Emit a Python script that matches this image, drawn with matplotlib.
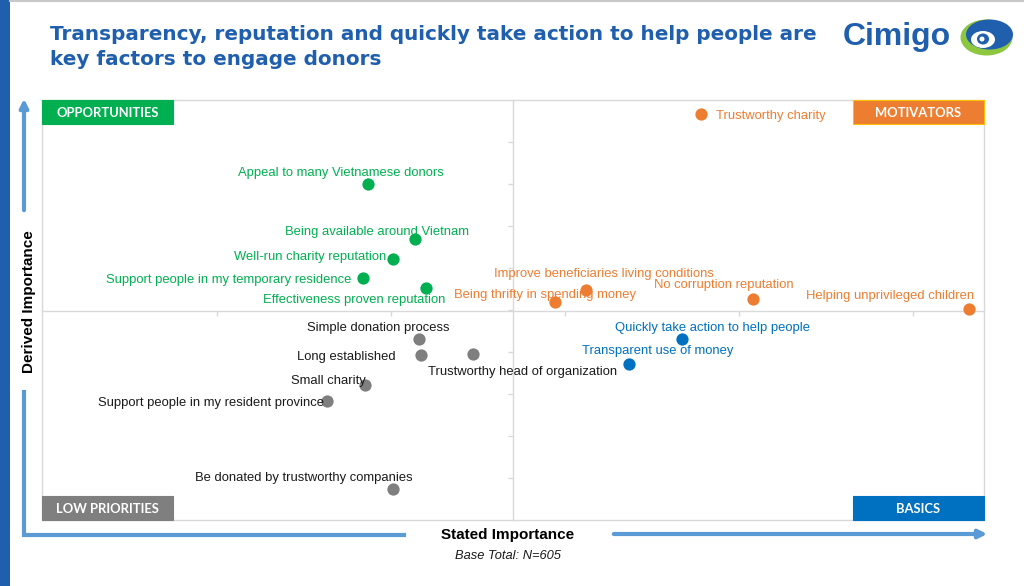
import matplotlib
matplotlib.use('Agg')
import matplotlib.pyplot as plt
from matplotlib.patches import Rectangle, Ellipse, FancyArrowPatch
from matplotlib.lines import Line2D

# ---------------- data ----------------
labels = [
    "Appeal to many Vietnamese donors",
    "Being available around Vietnam",
    "Well-run charity reputation",
    "Support people in my temporary residence",
    "Effectiveness proven reputation",
    "Trustworthy charity",
    "Improve beneficiaries living conditions",
    "Being thrifty in spending money",
    "No corruption reputation",
    "Helping unprivileged children",
    "Quickly take action to help people",
    "Transparent use of money",
    "Simple donation process",
    "Long established",
    "Trustworthy head of organization",
    "Small charity",
    "Support people in my resident province",
    "Be donated by trustworthy companies",
]
stated_importance = [1.87, 2.14, 2.01, 1.84, 2.20,
                     3.78, 3.12, 2.94, 4.08, 5.32,
                     3.67, 3.37,
                     2.16, 2.17, 2.47, 1.85, 1.63, 2.01]
derived_importance = [8.00, 6.69, 6.21, 5.76, 5.52,
                      9.67, 5.48, 5.19, 5.26, 5.02,
                      4.31, 3.71,
                      4.31, 3.93, 3.95, 3.21, 2.83, 0.74]
quadrant = ["OPPORTUNITIES"] * 5 + ["MOTIVATORS"] * 5 + ["BASICS"] * 2 + ["LOW PRIORITIES"] * 6

title = ("Transparency, reputation and quickly take action to help people are\n"
         "key factors to engage donors")
x_title = "Stated Importance"
y_title = "Derived Importance"
base_note = "Base Total: N=605"

# ---------------- style / layout ----------------
W, H = 1024, 586
X_MID, Y_MID = 2.70, 4.98
dot_color = {"OPPORTUNITIES": "#00B050", "MOTIVATORS": "#ED7D31",
             "BASICS": "#0070C0", "LOW PRIORITIES": "#7F7F7F"}
text_color = {"OPPORTUNITIES": "#00B050", "MOTIVATORS": "#ED7D31",
              "BASICS": "#0070C0", "LOW PRIORITIES": "#1A1A1A"}
box_color = {"OPPORTUNITIES": "#00B050", "MOTIVATORS": "#ED7D31",
             "BASICS": "#0070C0", "LOW PRIORITIES": "#7F7F7F"}
# label offsets in pixels (dx, dy up) and horizontal alignment
label_layout = {
    "Appeal to many Vietnamese donors": (-28, 11, "center"),
    "Being available around Vietnam": (-38, 7, "center"),
    "Well-run charity reputation": (-6, 2, "right"),
    "Support people in my temporary residence": (-12, -2, "right"),
    "Effectiveness proven reputation": (-72, -12, "center"),
    "Trustworthy charity": (15, -2, "left"),
    "Improve beneficiaries living conditions": (18, 16, "center"),
    "Being thrifty in spending money": (-10, 7, "center"),
    "No corruption reputation": (-29, 14, "center"),
    "Helping unprivileged children": (-79, 13, "center"),
    "Quickly take action to help people": (31, 11, "center"),
    "Transparent use of money": (28, 13, "center"),
    "Simple donation process": (-41, 11, "center"),
    "Long established": (-25, -2, "right"),
    "Trustworthy head of organization": (50, -18, "center"),
    "Small charity": (-37, 4, "center"),
    "Support people in my resident province": (-3, -2, "right"),
    "Be donated by trustworthy companies": (-89, 11, "center"),
}

plt.rcParams['font.family'] = ['Liberation Sans', 'DejaVu Sans']

fig = plt.figure(figsize=(W / 100, H / 100), dpi=100)
fig.patch.set_facecolor('white')


def fx(px):
    return px / W


def fy(py):
    return 1 - py / H


# left blue bar and top grey line
fig.add_artist(Rectangle((0, 0), fx(10), 1, transform=fig.transFigure,
                         color='#1F5FAD', lw=0))
fig.add_artist(Line2D([fx(10), 1], [fy(1), fy(1)], transform=fig.transFigure,
                      color='#C8C8C8', lw=1.5))

# title
fig.text(fx(50), fy(25), title, ha='left', va='top', fontsize=14.4,
         fontweight='bold', color='#1F5FAD', linespacing=1.38,
         family=['DejaVu Sans'])

# logo
fig.text(fx(843), fy(37), "Cimigo", ha='left', va='center', fontsize=23,
         fontweight='bold', color='#1F5FAD')
lax = fig.add_axes([fx(960), fy(56), 53 / W, 37 / H])
lax.set_xlim(0, 53)
lax.set_ylim(0, 37)
lax.axis('off')
lax.add_patch(Ellipse((26.5, 18.5), 52, 36, color='#8DC63F', lw=0))
lax.add_patch(Ellipse((29.5, 21.5), 47, 30, color='#1F5FAD', lw=0))
lax.add_patch(Ellipse((23, 16.5), 24, 17, color='white', lw=0))
lax.add_patch(Ellipse((23, 17), 12, 11, color='#1F5FAD', lw=0))
lax.add_patch(Ellipse((22, 17), 5, 5, color='white', lw=0))

# main axes
ax = fig.add_axes([fx(42), fy(520), (984 - 42) / W, (520 - 100) / H])
ax.set_xlim(-1 / 174, 941 / 174)
ax.set_ylim(0, 10)
ax.set_facecolor('white')
for s in ['top', 'right']:
    ax.spines[s].set_visible(False)
ax.spines['left'].set_position(('data', X_MID))
ax.spines['bottom'].set_position(('data', Y_MID))
for s in ['left', 'bottom']:
    ax.spines[s].set_color('#D9D9D9')
    ax.spines[s].set_linewidth(1.0)
ax.set_xticks([1, 2, 3, 4, 5])
ax.set_yticks(list(range(1, 10)))
ax.tick_params(length=3.5, width=1, color='#D9D9D9', direction='out',
               labelbottom=False, labelleft=False)
ax.add_patch(Rectangle((0, 0), 1, 1, transform=ax.transAxes, fill=False,
                       ec='#D9D9D9', lw=1.0, clip_on=False, zorder=1))

# points
for q in ["OPPORTUNITIES", "MOTIVATORS", "BASICS", "LOW PRIORITIES"]:
    xs = [x for x, g in zip(stated_importance, quadrant) if g == q]
    ys = [y for y, g in zip(derived_importance, quadrant) if g == q]
    ax.scatter(xs, ys, s=78, color=dot_color[q], linewidths=0, zorder=3)

for lab, x, y, q in zip(labels, stated_importance, derived_importance, quadrant):
    dx, dy, ha = label_layout[lab]
    ax.annotate(lab, (x, y), xytext=(dx, dy), textcoords='offset pixels',
                ha=ha, va='center', fontsize=9.4, color=text_color[q], zorder=4)

# quadrant boxes
bw, bh = 131 / 942, 24 / 420
box_pos = {"OPPORTUNITIES": (0, 1 - bh), "MOTIVATORS": (1 - bw, 1 - bh),
           "LOW PRIORITIES": (0, 0), "BASICS": (1 - bw, 0)}
for q, (bx, by) in box_pos.items():
    ec = '#FFC000' if q == "MOTIVATORS" else box_color[q]
    ax.add_patch(Rectangle((bx, by), bw, bh, transform=ax.transAxes,
                           facecolor=box_color[q], edgecolor=ec, lw=0.8,
                           clip_on=False, zorder=5))
    ax.text(bx + bw / 2, by + bh / 2 - 0.003, q, transform=ax.transAxes,
            ha='center', va='center', fontsize=9.4, fontweight='bold',
            color='white', family=['Lato', 'DejaVu Sans'], zorder=6)

# axis arrows
arrow_c = '#5B9BD5'
fig.add_artist(FancyArrowPatch((fx(24), fy(213)), (fx(24), fy(96)),
                               transform=fig.transFigure, arrowstyle='-|>',
                               mutation_scale=12, lw=3, color=arrow_c))
fig.add_artist(Line2D([fx(24), fx(24), fx(404)], [fy(392), fy(535), fy(535)],
                      transform=fig.transFigure, color=arrow_c, lw=3,
                      solid_joinstyle='miter'))
fig.add_artist(FancyArrowPatch((fx(611), fy(534)), (fx(990), fy(534)),
                               transform=fig.transFigure, arrowstyle='-|>',
                               mutation_scale=12, lw=3, color=arrow_c))

# axis titles
fig.text(fx(508), fy(535), x_title, ha='center', va='center', fontsize=11,
         fontweight='bold', color='black')
fig.text(fx(508), fy(556), base_note, ha='center', va='center', fontsize=9.3,
         style='italic', color='#1A1A1A')
fig.text(fx(29), fy(302), y_title, ha='center', va='center', fontsize=11,
         fontweight='bold', color='black', rotation=90)

fig.savefig('out.png', dpi=100, facecolor='white')
